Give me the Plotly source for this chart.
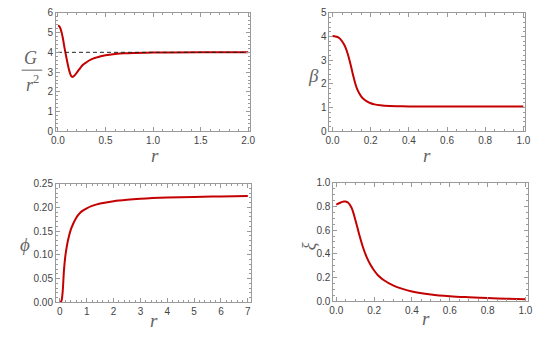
import plotly.graph_objects as go

# ---- data ----
r_G = [0, 0.01, 0.02, 0.03, 0.04, 0.05, 0.06, 0.07, 0.08, 0.09, 0.10, 0.11, 0.12, 0.13, 0.14, 0.15,
       0.16, 0.18, 0.20, 0.23, 0.26, 0.30, 0.35, 0.40, 0.45, 0.5, 0.6, 0.7, 0.8, 1.0, 1.2, 1.5, 2.0]
G_r2 = [5.35, 5.33, 5.27, 5.15, 4.97, 4.75, 4.48, 4.2, 3.95, 3.7, 3.46, 3.24, 3.05, 2.9, 2.8, 2.76,
        2.77, 2.86, 2.99, 3.18, 3.36, 3.5, 3.64, 3.73, 3.8, 3.85, 3.91, 3.95, 3.97, 3.99, 3.995, 4.0, 4.0]
G_ref_x = [0, 2.0]
G_ref_y = [4, 4]

r_beta = [0, 0.01, 0.02, 0.03, 0.04, 0.05, 0.06, 0.07, 0.08, 0.09, 0.10, 0.11, 0.12, 0.13, 0.14,
          0.15, 0.16, 0.18, 0.20, 0.22, 0.25, 0.3, 0.35, 0.4, 0.5, 0.6, 0.8, 1.0]
beta = [4.02, 4.01, 3.99, 3.96, 3.9, 3.8, 3.67, 3.5, 3.26, 2.97, 2.64, 2.3, 2.0, 1.77, 1.61,
        1.48, 1.39, 1.27, 1.19, 1.14, 1.1, 1.07, 1.06, 1.055, 1.05, 1.05, 1.05, 1.05]

r_phi = [0, 0.05, 0.1, 0.15, 0.2, 0.25, 0.3, 0.4, 0.5, 0.6, 0.7, 0.8, 1.0, 1.2, 1.5, 2.0, 2.5,
         3.0, 4.0, 5.0, 6.0, 7.0]
phi = [0, 0.002, 0.02, 0.066, 0.096, 0.115, 0.13, 0.152, 0.166, 0.177, 0.185, 0.191, 0.198,
       0.203, 0.208, 0.213, 0.216, 0.218, 0.2205, 0.222, 0.223, 0.224]

r_xi = [0, 0.02, 0.04, 0.05, 0.06, 0.08, 0.10, 0.12, 0.14, 0.16, 0.18, 0.20, 0.22, 0.25, 0.3,
        0.35, 0.4, 0.5, 0.6, 0.7, 0.8, 0.9, 1.0]
xi = [0.815, 0.83, 0.84, 0.84, 0.835, 0.79, 0.69, 0.57, 0.46, 0.375, 0.31, 0.26, 0.22, 0.18,
      0.135, 0.105, 0.083, 0.058, 0.043, 0.034, 0.027, 0.022, 0.018]

W, H = 556, 344
RED = "#c40000"
FRAME = "#9a9a9a"
TICKFONT = dict(family="Liberation Sans, Arial", size=10, color="#444444")
LABCOL = "#666666"


def px(x, y):
    return x / W, 1 - y / H


fig = go.Figure()
fig.add_trace(go.Scatter(x=r_G, y=G_r2, mode="lines", line=dict(color=RED, width=2, shape="spline"),
                         xaxis="x", yaxis="y"))
fig.add_trace(go.Scatter(x=G_ref_x, y=G_ref_y, mode="lines",
                         line=dict(color="#222222", width=1, dash="4px,3px"), xaxis="x", yaxis="y"))
fig.add_trace(go.Scatter(x=r_beta, y=beta, mode="lines", line=dict(color=RED, width=2, shape="spline"),
                         xaxis="x2", yaxis="y2"))
fig.add_trace(go.Scatter(x=r_phi, y=phi, mode="lines", line=dict(color=RED, width=2, shape="spline"),
                         xaxis="x3", yaxis="y3"))
fig.add_trace(go.Scatter(x=r_xi, y=xi, mode="lines", line=dict(color=RED, width=2, shape="spline"),
                         xaxis="x4", yaxis="y4"))


def ax(domain, rng, dtick, minor_dtick, anchor, fmt=None):
    d = dict(domain=domain, range=rng, dtick=dtick, tick0=0, anchor=anchor,
             showline=True, linecolor=FRAME, linewidth=1, mirror="ticks",
             ticks="inside", ticklen=4, tickcolor=FRAME, tickwidth=1,
             minor=dict(ticks="inside", ticklen=2, tickcolor=FRAME, dtick=minor_dtick, tick0=0),
             showgrid=False, zeroline=False, tickfont=TICKFONT, fixedrange=True)
    if fmt:
        d["tickformat"] = fmt
    return d


# pixel boxes: (left, right, top, bottom)
b1 = (52, 250, 7, 130)
b2 = (331, 530, 7, 130)
b3 = (52, 251, 184, 307)
b4 = (335, 533.5, 183, 306)


def dom(b):
    return [b[0] / W, b[1] / W], [1 - b[3] / H, 1 - b[2] / H]


xd1, yd1 = dom(b1)
xd2, yd2 = dom(b2)
xd3, yd3 = dom(b3)
xd4, yd4 = dom(b4)

fig.update_layout(
    width=W, height=H, margin=dict(l=0, r=0, t=0, b=0),
    paper_bgcolor="white", plot_bgcolor="white", showlegend=False, hovermode=False,
    xaxis=ax(xd1, [-0.021, 2.02], 0.5, 0.1, "y", ".1f"),
    yaxis=ax(yd1, [0, 6], 1, 0.2, "x"),
    xaxis2=ax(xd2, [-0.016, 1.006], 0.2, 0.05, "y2", ".1f"),
    yaxis2=ax(yd2, [0, 5], 1, 0.2, "x2"),
    xaxis3=ax(xd3, [-0.146, 7.12], 1, 0.2, "y3"),
    yaxis3=ax(yd3, [0, 0.25], 0.05, 0.01, "x3", ".2f"),
    xaxis4=ax(xd4, [-0.0155, 1.013], 0.2, 0.05, "y4", ".1f"),
    yaxis4=ax(yd4, [0, 1.0], 0.2, 0.05, "x4", ".1f"),
)

SERIF = "Liberation Serif, Times New Roman, serif"


def label(text, x, y, size=17, angle=0, yanchor="middle"):
    xx, yy = px(x, y)
    fig.add_annotation(text=text, x=xx, y=yy, xref="paper", yref="paper", showarrow=False,
                       textangle=angle, font=dict(family=SERIF, size=size, color=LABCOL),
                       xanchor="center", yanchor=yanchor, borderpad=0)


for (x, y) in [(153, 155), (431, 155), (152, 326), (430, 324)]:
    label("<i>r</i>", x, y, size=19)

label("<i>G</i>", 26, 65.5, size=18, yanchor="bottom")
label("<i>r</i><sup>2</sup>", 28, 67.5, size=18, yanchor="top")
x0, y0 = px(17, 66.5)
x1, _ = px(38, 66.5)
fig.add_shape(type="line", xref="paper", yref="paper", x0=x0, x1=x1, y0=y0, y1=y0,
              line=dict(color=LABCOL, width=1))
label("<i>β</i>", 315, 72, size=19)
label("<i>ϕ</i>", 20, 247, size=19)
label("<i>ξ</i>", 310, 249, size=18, angle=-90)

fig.write_html("out.html", config={"displayModeBar": False, "staticPlot": True},
               post_script="document.body.style.margin='0';")
